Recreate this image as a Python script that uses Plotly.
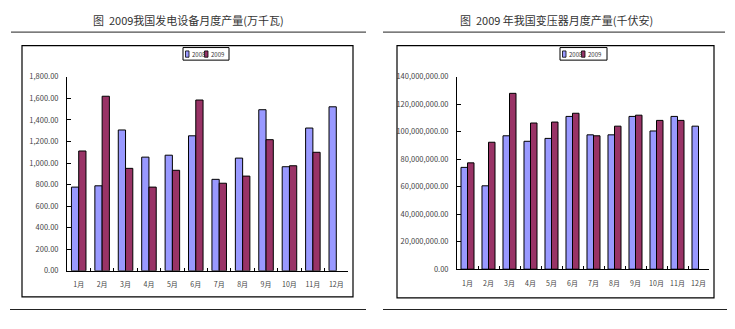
import plotly.graph_objects as go

# ---- data ----
months = ["1月", "2月", "3月", "4月", "5月", "6月", "7月", "8月", "9月", "10月", "11月", "12月"]
series_names = ["2008", "2009"]

# power generation equipment output (万千瓦)
power_2008 = [777, 789, 1307, 1055, 1073, 1253, 849, 1046, 1495, 966, 1325, 1522]
power_2009 = [1112, 1620, 951, 777, 933, 1585, 813, 879, 1217, 975, 1100, None]

# transformer output (千伏安)
trans_2008 = [74.1e6, 60.7e6, 97.1e6, 93.1e6, 95.2e6, 111.2e6, 97.8e6, 97.8e6, 111.2e6, 100.6e6, 111.2e6, 104.1e6]
trans_2009 = [77.4e6, 92.4e6, 128.0e6, 106.4e6, 107.1e6, 113.5e6, 97.1e6, 104.1e6, 112.1e6, 108.3e6, 108.3e6, None]

titles = ["图  2009我国发电设备月度产量(万千瓦)", "图  2009 年我国变压器月度产量(千伏安)"]

colors = ["#9999FF", "#993366"]

W, H = 735, 329


def px(x):
    return x / W


def py(y):
    return 1 - y / H


fig = go.Figure()

for vals, name, col in zip([power_2008, power_2009], series_names, colors):
    fig.add_trace(go.Bar(x=months, y=vals, name=name, marker=dict(color=col, line=dict(color="black", width=1)),
                         xaxis="x", yaxis="y", showlegend=False))
for vals, name, col in zip([trans_2008, trans_2009], series_names, colors):
    fig.add_trace(go.Bar(x=months, y=vals, name=name, marker=dict(color=col, line=dict(color="black", width=1)),
                         xaxis="x2", yaxis="y2", showlegend=False))

tick_font = dict(family="Noto Sans CJK SC", size=7.5, color="#444444")
month_font = dict(family="Noto Sans CJK SC", size=7, color="#444444")

common_x = dict(type="category", showline=True, linecolor="black", linewidth=1, ticks="inside",
                ticklen=3, tickcolor="black", tickson="boundaries", showgrid=False, zeroline=False,
                tickfont=month_font, tickangle=0, ticklabelstandoff=7, fixedrange=True)
common_y = dict(showline=True, linecolor="black", linewidth=1, ticks="inside", ticklen=4,
                tickcolor="black", showgrid=False, zeroline=False, tickformat=",.2f",
                tickfont=tick_font, ticklabelstandoff=6, fixedrange=True)

fig.update_layout(
    width=W, height=H,
    margin=dict(l=0, r=0, t=0, b=0),
    paper_bgcolor="white", plot_bgcolor="white",
    barmode="group", bargap=0.38, bargroupgap=0,
    showlegend=False,
    xaxis=dict(common_x, domain=[px(67), px(348)], anchor="y"),
    yaxis=dict(common_y, domain=[py(274), py(73.3)], range=[0, 1800], dtick=200, anchor="x"),
    xaxis2=dict(common_x, domain=[px(457), px(709)], anchor="y2"),
    yaxis2=dict(common_y, domain=[py(272.3), py(73.3)], range=[0, 140e6], dtick=20e6, anchor="x2"),
)

shapes = []
annotations = []

# chart frames
for x0, x1, y0, y1 in [(22, 353, 41, 301), (397, 714, 41, 302)]:
    shapes.append(dict(type="rect", xref="paper", yref="paper", x0=px(x0), x1=px(x1), y0=py(y1), y1=py(y0),
                       line=dict(color="black", width=1.2), fillcolor="rgba(0,0,0,0)"))

# rules above and below each chart
for x0, x1, y in [(11, 366, 27), (10, 366, 314), (383, 725, 27), (383, 727, 314)]:
    shapes.append(dict(type="line", xref="paper", yref="paper", x0=px(x0), x1=px(x1), y0=py(y), y1=py(y),
                       line=dict(color="#222222", width=1)))

# chart titles
for title, cx in zip(titles, [189, 556]):
    annotations.append(dict(text=title, xref="paper", yref="paper", x=px(cx), y=py(15), showarrow=False,
                            xanchor="center", yanchor="middle",
                            font=dict(family="Noto Sans CJK SC", size=11, color="#333333")))

# legends: bordered box with a small swatch and label per series
for lx0, lx1 in [(183, 229), (560, 607)]:
    shapes.append(dict(type="rect", xref="paper", yref="paper", x0=px(lx0), x1=px(lx1), y0=py(56), y1=py(43),
                       line=dict(color="black", width=1), fillcolor="white"))
    for i, (name, col) in enumerate(zip(series_names, colors)):
        sx = lx0 + 2.5 + i * 19
        shapes.append(dict(type="rect", xref="paper", yref="paper", x0=px(sx), x1=px(sx + 3.5),
                           y0=py(53), y1=py(46.5), line=dict(color="black", width=0.8), fillcolor=col))
        annotations.append(dict(text=name, xref="paper", yref="paper", x=px(sx + 4.5), y=py(49.7),
                                showarrow=False, xanchor="left", yanchor="middle",
                                font=dict(family="Noto Sans CJK SC", size=6, color="#333333")))

fig.update_layout(shapes=shapes, annotations=annotations)

fig.write_html("out.html")
